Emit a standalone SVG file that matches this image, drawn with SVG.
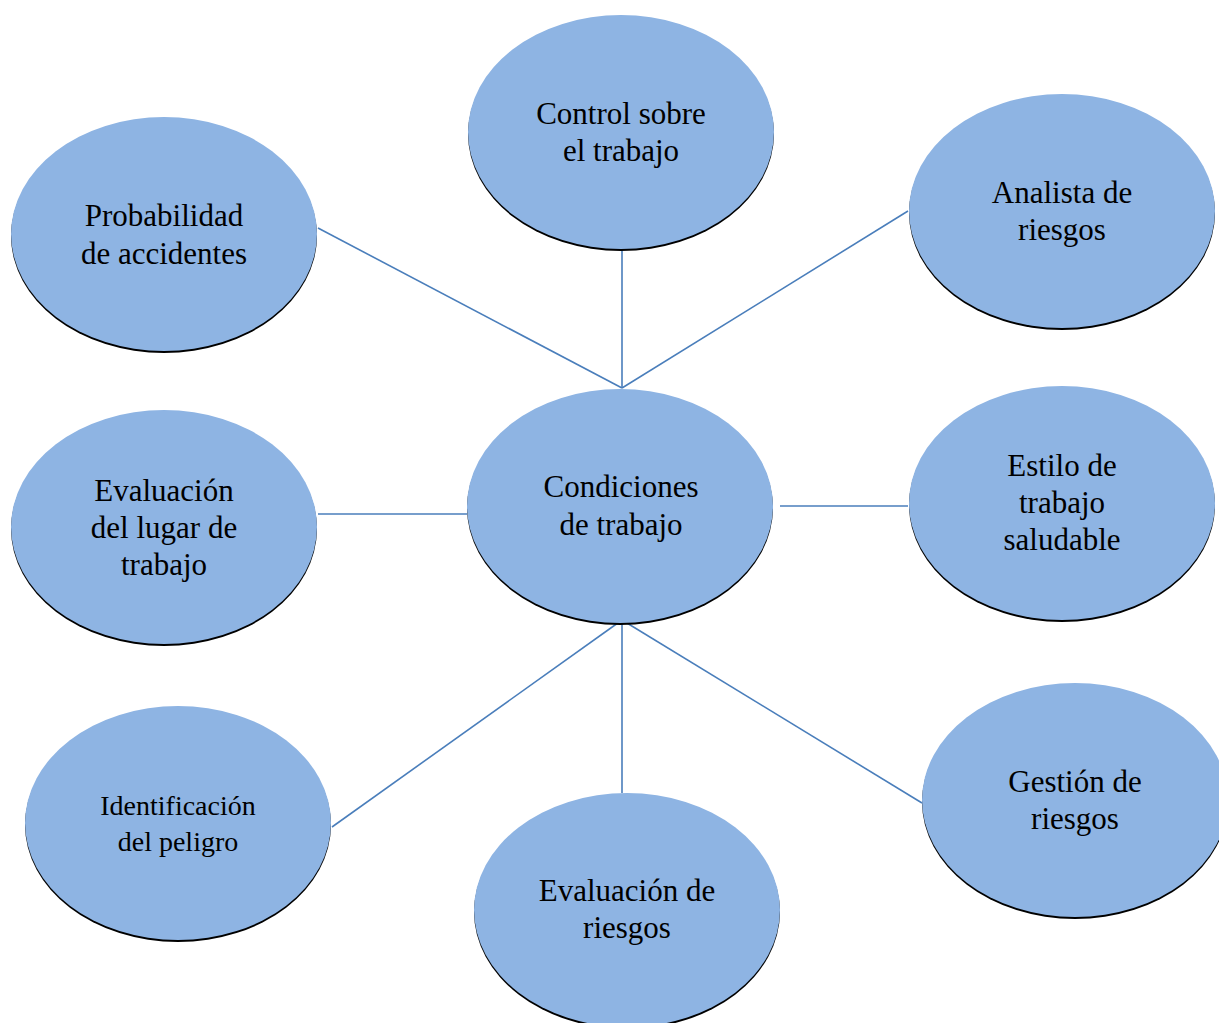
<svg xmlns="http://www.w3.org/2000/svg" width="1219" height="1023" viewBox="0 0 1219 1023">
<style>
.sh{fill:#000}
.el{fill:#8eb4e3}
.ln{stroke:#4a7ebb;stroke-width:1.6;fill:none}
text{font-family:"Liberation Serif","Times New Roman",serif;font-size:31px;fill:#000;text-anchor:middle}
.sm{font-size:28px}
</style>
<rect width="1219" height="1023" fill="#fff"/>
<g id="connectors">
<line class="ln" x1="318" y1="228" x2="622" y2="388"/>
<line class="ln" x1="622" y1="250" x2="622" y2="388"/>
<line class="ln" x1="908" y1="211" x2="622" y2="388"/>
<line class="ln" x1="318" y1="514" x2="467" y2="514"/>
<line class="ln" x1="780" y1="506" x2="908" y2="506"/>
<line class="ln" x1="622" y1="620" x2="332" y2="827"/>
<line class="ln" x1="622" y1="620" x2="622" y2="793"/>
<line class="ln" x1="622" y1="620" x2="922" y2="803"/>
</g>
<g id="center">
<ellipse class="sh" cx="620" cy="508" rx="153" ry="117"/>
<ellipse class="el" cx="620" cy="506" rx="153" ry="117"/>
<text x="621" y="497">Condiciones</text>
<text x="621" y="535">de trabajo</text>
</g>
<g id="control">
<ellipse class="sh" cx="621" cy="134" rx="153" ry="117"/>
<ellipse class="el" cx="621" cy="132" rx="153" ry="117"/>
<text x="621" y="124">Control sobre</text>
<text x="621" y="161">el trabajo</text>
</g>
<g id="analista">
<ellipse class="sh" cx="1062" cy="213" rx="153" ry="117"/>
<ellipse class="el" cx="1062" cy="211" rx="153" ry="117"/>
<text x="1062" y="203">Analista de</text>
<text x="1062" y="240">riesgos</text>
</g>
<g id="probabilidad">
<ellipse class="sh" cx="164" cy="236" rx="153" ry="117"/>
<ellipse class="el" cx="164" cy="234" rx="153" ry="117"/>
<text x="164" y="226">Probabilidad</text>
<text x="164" y="264">de accidentes</text>
</g>
<g id="evaluacion-lugar">
<ellipse class="sh" cx="164" cy="529" rx="153" ry="117"/>
<ellipse class="el" cx="164" cy="527" rx="153" ry="117"/>
<text x="164" y="501">Evaluación</text>
<text x="164" y="538">del lugar de</text>
<text x="164" y="575">trabajo</text>
</g>
<g id="estilo">
<ellipse class="sh" cx="1062" cy="505" rx="153" ry="117"/>
<ellipse class="el" cx="1062" cy="503" rx="153" ry="117"/>
<text x="1062" y="476">Estilo de</text>
<text x="1062" y="513">trabajo</text>
<text x="1062" y="550">saludable</text>
</g>
<g id="identificacion">
<ellipse class="sh" cx="178" cy="825" rx="153" ry="117"/>
<ellipse class="el" cx="178" cy="823" rx="153" ry="117"/>
<text class="sm" x="178" y="815">Identificación</text>
<text class="sm" x="178" y="851">del peligro</text>
</g>
<g id="evaluacion-riesgos">
<ellipse class="sh" cx="627" cy="912" rx="153" ry="117"/>
<ellipse class="el" cx="627" cy="910" rx="153" ry="117"/>
<text x="627" y="901">Evaluación de</text>
<text x="627" y="938">riesgos</text>
</g>
<g id="gestion">
<ellipse class="sh" cx="1075" cy="802" rx="153" ry="117"/>
<ellipse class="el" cx="1075" cy="800" rx="153" ry="117"/>
<text x="1075" y="792">Gestión de</text>
<text x="1075" y="829">riesgos</text>
</g>
</svg>
